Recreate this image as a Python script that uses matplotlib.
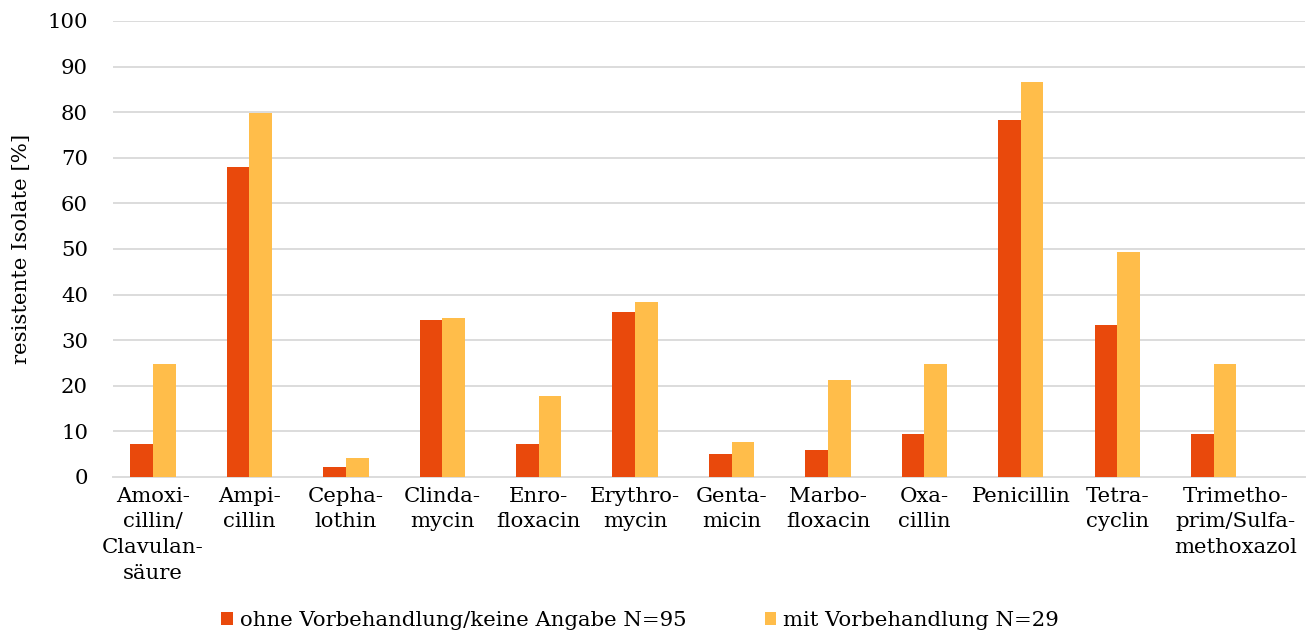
import matplotlib
matplotlib.use("Agg")
import matplotlib.pyplot as plt
import matplotlib.transforms as mtrans
import numpy as np

categories = ["Amoxi-\ncillin/\nClavulan-\nsäure", "Ampi-\ncillin", "Cepha-\nlothin",
              "Clinda-\nmycin", "Enro-\nfloxacin", "Erythro-\nmycin", "Genta-\nmicin",
              "Marbo-\nfloxacin", "Oxa-\ncillin", "Penicillin", "Tetra-\ncyclin",
              "Trimetho-\nprim/Sulfa-\nmethoxazol"]
ohne = [7.2, 68.0, 2.1, 34.4, 7.2, 36.2, 5.1, 5.9, 9.4, 78.3, 33.3, 9.4]
mit = [24.7, 79.9, 4.1, 34.9, 17.8, 38.3, 7.6, 21.3, 24.7, 86.7, 49.3, 24.7]
series_names = ["ohne Vorbehandlung/keine Angabe N=95", "mit Vorbehandlung N=29"]
yticks = list(range(0, 101, 10))

plt.rcParams['font.family'] = ['DejaVu Serif']
FS = 15.3
fig = plt.figure(figsize=(13.12, 6.33), dpi=100)
ax = fig.add_axes([113/1312, 1-477/633, (1305-113)/1312, (477-21)/633])

x = np.arange(len(categories))
w = 0.235
ax.bar(x - w/2, ohne, w, color="#E9490C", label=series_names[0], zorder=3)
ax.bar(x + w/2, mit, w, color="#FFBD4A", label=series_names[1], zorder=3)

ax.set_ylim(0, 100)
ax.set_xlim(-0.415, 11.947)
ax.set_yticks(yticks)
ax.set_yticklabels([str(t) for t in yticks], fontsize=FS)
ax.yaxis.grid(True, color="#DCDCDC", linewidth=1.4, zorder=0)
ax.set_xticks(x)
ax.set_xticklabels(categories, fontsize=FS, linespacing=1.45, multialignment='center')
ax.tick_params(axis='both', length=0)
ax.tick_params(axis='x', pad=7)
ax.tick_params(axis='y', pad=18)
for s in ['top', 'right', 'left']:
    ax.spines[s].set_visible(False)
ax.spines['bottom'].set_color("#DCDCDC")
ax.spines['bottom'].set_linewidth(1.4)
ax.set_ylabel("resistente Isolate [%]", fontsize=FS, labelpad=12)

# last label sits a bit to the right of its bars in the reference
lbl = ax.get_xticklabels()[-1]
lbl.set_transform(lbl.get_transform() + mtrans.ScaledTranslation(22/100, 0, fig.dpi_scale_trans))

fig.legend(loc='lower center', bbox_to_anchor=(640/1312, -0.025), ncol=2, frameon=False,
           fontsize=FS, handlelength=0.55, handleheight=0.55, handletextpad=0.3,
           columnspacing=3.7)

fig.savefig("out.png", dpi=100)
